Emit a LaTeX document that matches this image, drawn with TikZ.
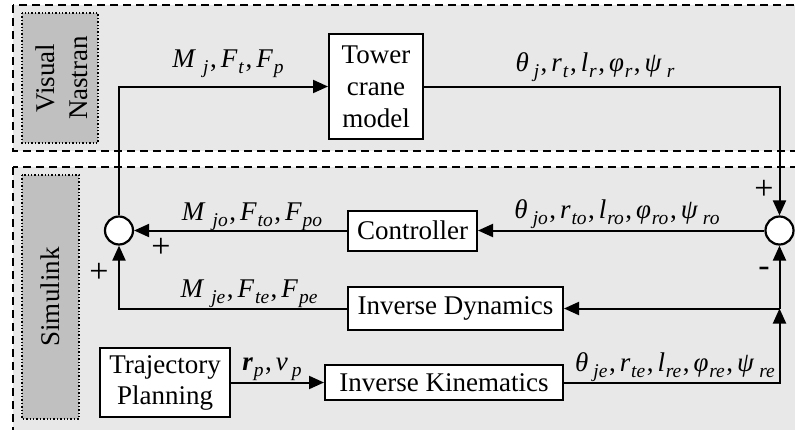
\documentclass[tikz,border=0pt]{standalone}
\usepackage{fontspec}
\setmainfont{Liberation Serif}
\usetikzlibrary{arrows.meta}
\definecolor{panel}{HTML}{E8E8E8}
\definecolor{tagfill}{HTML}{C0C0C0}
% italic symbol with a lowered italic subscript; optional kern before the subscript
\newcommand\sy[3][0.8pt]{\textit{#2}\kern#1\raisebox{-6pt}{\fontsize{19.5}{19.5}\selectfont\textit{#3}}}
\newcommand\cm{\kern1.5pt,\kern4pt}
\begin{document}
\begin{tikzpicture}[x=1pt,y=-1pt,
  font=\fontsize{27}{32}\selectfont,
  blk/.style={draw, line width=2pt, fill=white, inner sep=0pt, align=center},
  sumnode/.style={draw, line width=2.2pt, fill=white, circle, minimum size=28pt, inner sep=0pt},
  arr/.style={line width=2pt, -{Triangle[length=15pt,width=13pt]}},
  lbl/.style={inner sep=0pt},
  sgn/.style={inner sep=0pt, font=\fontsize{34}{34}\selectfont},
  region/.style={dashed, dash pattern=on 8pt off 5pt, line width=1.7pt, fill=panel},
  tag/.style={dotted, line width=1.4pt, fill=tagfill}]
\useasboundingbox (0,0) rectangle (795,429);

% simulation environments
\draw[region] (13,5) rectangle (810,151);
\draw[region] (13,167) rectangle (810,445);
\draw[tag] (22,13) rectangle (98,143);
\draw[tag] (22,175) rectangle (79,419);
\node[lbl, rotate=90] (vn1) at (45,78) {Visual};
\node[lbl, rotate=90] (vn2) at (79,78) {Nastran};
\node[lbl, rotate=90] (sl) at (50,297) {Simulink};

% blocks
\node[blk, minimum width=94pt, minimum height=105pt] (tower) at (376,86.5) {Tower\\crane\\model};
\node[blk, minimum width=129pt, minimum height=40pt] (ctrl) at (412.5,230.5) {Controller};
\node[blk, minimum width=215pt, minimum height=43pt] (idyn) at (455.5,308.5) {Inverse Dynamics};
\node[blk, minimum width=238pt, minimum height=35pt] (ikin) at (444,382.5) {Inverse Kinematics};
\node[blk, minimum width=130pt, minimum height=69pt, font=\fontsize{27}{31}\selectfont] (traj) at (165,382.5) {Trajectory\\Planning};

% summing junctions
\node[sumnode] (sL) at (119,230.5) {};
\node[sumnode] (sR) at (779.5,230.5) {};
\coordinate (jn) at (779.5,308.5);

% connections
\draw[arr] (sL.north) |- (tower.west);
\draw[arr] (tower.east) -| (sR.north);
\draw[arr] (sR.west) -- (ctrl.east);
\draw[arr] (ctrl.west) -- (sL.east);
\draw[arr] (jn) -- (idyn.east);
\draw[arr] (idyn.west) -| (sL.south);
\draw[arr] (jn) -- (sR.south);
\draw[arr] (ikin.east) -| (jn);
\draw[arr] (traj.east |- ikin.west) -- (ikin.west);

% signal labels
\node[lbl] (lMj) at (228,64) {\sy[7pt]{M}{j}\cm\sy{F}{t}\cm\sy{F}{p}};
\node[lbl] (lth) at (595,67) {\sy[5pt]{θ}{j}\cm\sy{r}{t}\cm\sy{l}{r}\cm\sy{φ}{r}\cm\sy[5pt]{ψ}{r}};
\node[lbl] (lMo) at (252,217) {\sy[7pt]{M}{jo}\cm\sy{F}{to}\cm\sy{F}{po}};
\node[lbl] (lto) at (617,214) {\sy[5pt]{θ}{jo}\cm\sy{r}{to}\cm\sy{l}{ro}\cm\sy{φ}{ro}\cm\sy[5pt]{ψ}{ro}};
\node[lbl] (lMe) at (249,294) {\sy[7pt]{M}{je}\cm\sy{F}{te}\cm\sy{F}{pe}};
\node[lbl] (lrp) at (272,369) {\textbf{\textit{r}}\kern1pt\raisebox{-6pt}{\fontsize{19.5}{19.5}\selectfont\textit{p}}\cm\sy[4pt]{v}{p}};
\node[lbl] (lte) at (675,367) {\sy[5pt]{θ}{je}\cm\sy{r}{te}\cm\sy{l}{re}\cm\sy{φ}{re}\cm\sy[5pt]{ψ}{re}};

% signs at the junctions
\node[sgn] (p1) at (764,190) {+};
\node[sgn] (m1) at (764,272) {-};
\node[sgn] (p2) at (161,248) {+};
\node[sgn] (p3) at (99,273) {+};
\end{tikzpicture}
\end{document}
